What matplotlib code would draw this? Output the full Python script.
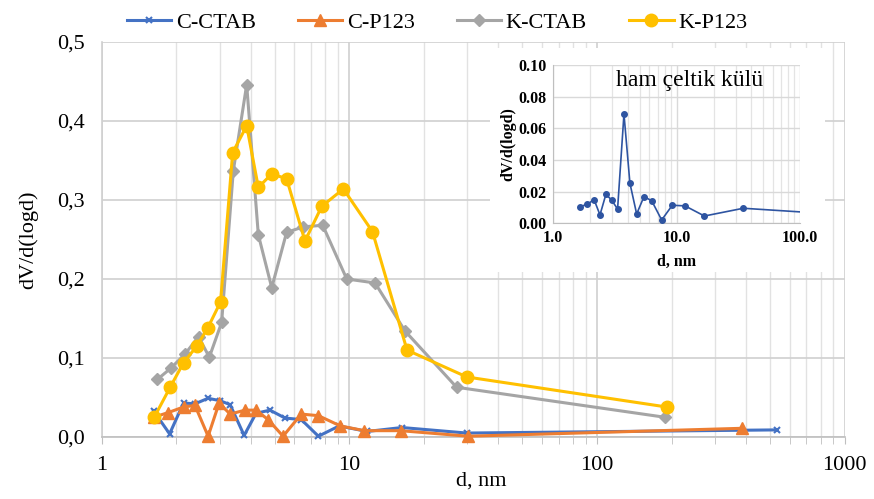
import matplotlib
matplotlib.use('Agg')
import matplotlib.pyplot as plt
from matplotlib.ticker import FixedLocator, FuncFormatter, LogLocator, NullFormatter
from matplotlib.patches import Rectangle

plt.rcParams['font.family'] = ['Liberation Serif', 'DejaVu Serif']

# pore size distributions (d in nm, dV/d(logd))
c_ctab_d = [1.62, 1.88, 2.14, 2.38, 2.69, 3.0, 3.3, 3.76, 4.2, 4.78, 5.5, 6.4, 7.5, 9.1, 11.8, 16.3, 29.8, 532]
c_ctab_v = [0.033, 0.004, 0.043, 0.042, 0.049, 0.046, 0.041, 0.002, 0.030, 0.034, 0.024, 0.022, 0.001, 0.014, 0.007, 0.012, 0.005, 0.009]

c_p123_d = [1.62, 1.86, 2.14, 2.38, 2.69, 2.98, 3.3, 3.79, 4.2, 4.7, 5.4, 6.4, 7.5, 9.2, 11.5, 16.1, 30.2, 384]
c_p123_v = [0.025, 0.031, 0.038, 0.040, 0.001, 0.043, 0.029, 0.034, 0.034, 0.022, 0.001, 0.029, 0.027, 0.014, 0.008, 0.008, 0.001, 0.011]

k_ctab_d = [1.68, 1.90, 2.17, 2.46, 2.72, 3.05, 3.40, 3.85, 4.29, 4.86, 5.58, 6.52, 7.81, 9.76, 12.7, 16.8, 27.1, 188]
k_ctab_v = [0.073, 0.087, 0.105, 0.127, 0.101, 0.145, 0.337, 0.446, 0.256, 0.189, 0.259, 0.266, 0.268, 0.200, 0.195, 0.134, 0.063, 0.025]

k_p123_d = [1.63, 1.89, 2.14, 2.42, 2.68, 3.02, 3.38, 3.85, 4.29, 4.86, 5.58, 6.62, 7.74, 9.46, 12.4, 17.1, 29.8, 191]
k_p123_v = [0.025, 0.063, 0.094, 0.115, 0.138, 0.171, 0.360, 0.394, 0.316, 0.333, 0.327, 0.248, 0.292, 0.314, 0.260, 0.110, 0.076, 0.038]

# raw rice husk ash (inset)
raw_d = [1.64, 1.89, 2.14, 2.39, 2.67, 2.97, 3.32, 3.74, 4.18, 4.74, 5.43, 6.27, 7.56, 9.22, 11.7, 16.8, 34.7, 530]
raw_v = [0.0105, 0.012, 0.015, 0.0053, 0.0183, 0.0147, 0.009, 0.069, 0.0253, 0.0059, 0.0168, 0.0143, 0.0021, 0.0114, 0.011, 0.0046, 0.0095, 0.0036]

W, H = 874, 499
fig = plt.figure(figsize=(W / 100, H / 100), dpi=100)
ax = fig.add_axes([101.7 / W, 1 - 437 / H, (844.6 - 101.7) / W, (437 - 42) / H])

series = [
    ('C-CTAB', c_ctab_d, c_ctab_v, '#4472C4', dict(marker='x', ms=5, mew=1.5)),
    ('C-P123', c_p123_d, c_p123_v, '#ED7D31', dict(marker='^', ms=8.5)),
    ('K-CTAB', k_ctab_d, k_ctab_v, '#A5A5A5', dict(marker='D', ms=6)),
    ('K-P123', k_p123_d, k_p123_v, '#FFC000', dict(marker='o', ms=9)),
]
for name, d, v, col, mk in series:
    ax.plot(d, v, color=col, lw=2.2, label=name, clip_on=False, zorder=3, **mk)

ax.set_xscale('log')
ax.set_xlim(1, 1000)
ax.set_ylim(0, 0.5)
ax.set_yticks([0, 0.1, 0.2, 0.3, 0.4, 0.5])
ax.yaxis.set_major_formatter(FuncFormatter(lambda v, _: f'{v:.1f}'.replace('.', ',')))
ax.xaxis.set_major_locator(FixedLocator([1, 10, 100, 1000]))
ax.xaxis.set_major_formatter(FuncFormatter(lambda v, _: f'{v:g}'))
ax.xaxis.set_minor_locator(LogLocator(base=10, subs=range(2, 10)))
ax.xaxis.set_minor_formatter(NullFormatter())

ax.grid(True, which='major', color='#d0d0d0', lw=1.2, zorder=0)
ax.grid(True, which='minor', axis='x', color='#e2e2e2', lw=1.0, zorder=0)
ax.set_axisbelow(True)
for s in ('top', 'right'):
    ax.spines[s].set_visible(False)
ax.spines['bottom'].set_color('#bfbfbf')
ax.spines['bottom'].set_linewidth(1.2)
ax.spines['left'].set_color('#d0d0d0')
ax.spines['left'].set_linewidth(1.2)
ax.tick_params(axis='x', which='both', direction='out', length=5, color='#bfbfbf', labelsize=16, pad=9)
ax.tick_params(axis='y', length=0, labelsize=16, pad=12)

ax.set_ylabel('dV/d(logd)', fontsize=16)
ax.yaxis.set_label_coords((38 - 101.7) / 742.9, 0.5)
ax.set_xlabel('d, nm', fontsize=16)
ax.xaxis.set_label_coords((481 - 101.7) / 742.9, (437 - 472) / 395)

fig.legend(ncol=4, loc='upper center', bbox_to_anchor=(0.5, 1.015), frameon=False,
           fontsize=16, handlelength=2.0, columnspacing=1.9, handletextpad=0.2)

# white panel behind the inset
fig.add_artist(Rectangle((490 / W, 1 - 272 / H), 335 / W, 224 / H, transform=fig.transFigure,
                         fc='white', ec='none', zorder=2))

ins = fig.add_axes([553.3 / W, 1 - 223.3 / H, 246.7 / W, 158.3 / H])
ins.set_zorder(3)
ins.plot(raw_d, raw_v, color='#2E54A1', lw=1.2, marker='o', ms=4, zorder=3)
ins.set_xscale('log')
ins.set_xlim(1, 100)
ins.set_ylim(0, 0.1)
ins.set_yticks([0, 0.02, 0.04, 0.06, 0.08, 0.10])
ins.yaxis.set_major_formatter(FuncFormatter(lambda v, _: f'{v:.2f}'))
ins.xaxis.set_major_locator(FixedLocator([1, 10, 100]))
ins.xaxis.set_major_formatter(FuncFormatter(lambda v, _: f'{v:.1f}'))
ins.xaxis.set_minor_locator(LogLocator(base=10, subs=range(2, 10)))
ins.xaxis.set_minor_formatter(NullFormatter())
ins.grid(True, which='major', color='#d9d9d9', lw=1.0)
ins.grid(True, which='minor', axis='x', color='#e4e4e4', lw=0.9)
ins.set_axisbelow(True)
for s in ('top', 'right'):
    ins.spines[s].set_visible(False)
for s in ('bottom', 'left'):
    ins.spines[s].set_color('#bfbfbf')
ins.tick_params(which='both', length=0, labelsize=11.5, pad=5)
for lab in ins.get_xticklabels() + ins.get_yticklabels():
    lab.set_fontweight('bold')
ins.set_ylabel('dV/d(logd)', fontsize=11.5, fontweight='bold')
ins.yaxis.set_label_coords((516 - 553.3) / 246.7, 0.5)
ins.set_xlabel('d, nm', fontsize=11.5, fontweight='bold')
ins.xaxis.set_label_coords(0.5, -(254 - 223.3) / 158.3)
ins.text(0.554, 0.905, 'ham çeltik külü', transform=ins.transAxes, ha='center', va='center', fontsize=17)

fig.savefig('out.png', dpi=100)
